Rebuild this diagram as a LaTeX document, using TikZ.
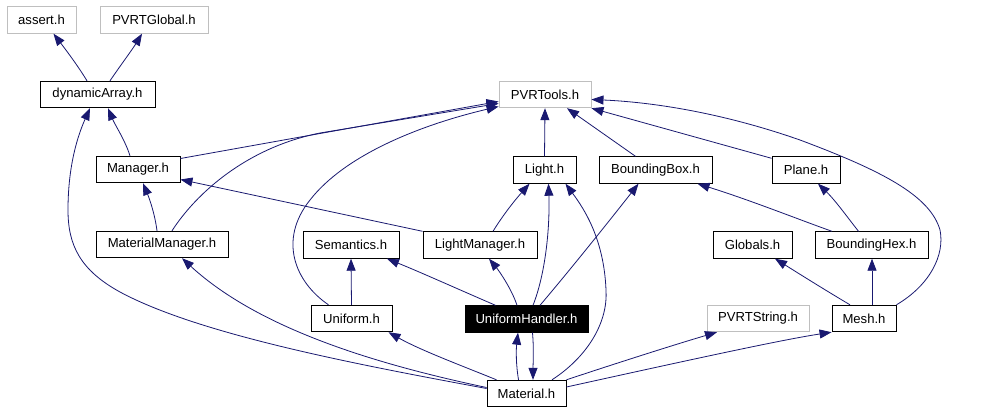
\documentclass[tikz,border=0pt]{standalone}
\usepackage{fontspec}
\setmainfont{Liberation Sans}
\usetikzlibrary{arrows.meta}
\definecolor{edgeblue}{RGB}{25,25,112}
\definecolor{grayborder}{RGB}{191,191,191}
\begin{document}
\begin{tikzpicture}[x=1pt,y=-1pt,
  box/.style={draw=black,line width=0.9pt,rectangle,inner sep=0pt,minimum height=26.5pt,font=\fontsize{13.1}{14}\selectfont,text=black},
  graybox/.style={box,draw=grayborder},
  focusbox/.style={box,fill=black,text=white},
  edge/.style={draw=edgeblue,line width=0.8pt,-{Triangle[length=12pt,width=9pt]}}]
\fill[white] (0,0) rectangle (984,413);
\useasboundingbox (0,0) rectangle (984,413);
\node[graybox,minimum width=69pt] (assert) at (41.5,20) {assert.h};
\node[graybox,minimum width=108pt] (pvrtglobal) at (154,20) {PVRTGlobal.h};
\node[box,minimum width=115pt] (dynarr) at (97.5,94.5) {dynamicArray.h};
\node[graybox,minimum width=92pt] (pvrtools) at (545,94.5) {PVRTools.h};
\node[box,minimum width=84pt] (manager) at (138,169.5) {Manager.h};
\node[box,minimum width=63pt] (light) at (544.5,170) {Light.h};
\node[box,minimum width=113pt] (bbox) at (655.5,170) {BoundingBox.h};
\node[box,minimum width=68pt] (plane) at (806,170) {Plane.h};
\node[box,minimum width=132pt] (matman) at (162,244.5) {MaterialManager.h};
\node[box,minimum width=96pt] (semantics) at (351,245) {Semantics.h};
\node[box,minimum width=114pt] (lightman) at (480,245) {LightManager.h};
\node[box,minimum width=79pt] (globals) at (752.5,245) {Globals.h};
\node[box,minimum width=113pt] (bhex) at (871.5,245) {BoundingHex.h};
\node[box,minimum width=81pt] (uniform) at (351.5,318.5) {Uniform.h};
\node[focusbox,minimum width=123pt] (uhandler) at (526.5,319) {UniformHandler.h};
\node[graybox,minimum width=102pt] (pvrtstring) at (758,318.5) {PVRTString.h};
\node[box,minimum width=64pt] (mesh) at (864,318.5) {Mesh.h};
\node[box,minimum width=79pt] (material) at (526.5,393.5) {Material.h};
% edges
\draw[edge] ([xshift=-10.5pt]dynarr.north) .. controls (78,66) and (66,50) .. ([xshift=12pt]assert.south);
\draw[edge] ([xshift=12.5pt]dynarr.north) .. controls (120,66) and (132,50) .. ([xshift=-12pt]pvrtglobal.south);
\draw[edge] ([xshift=-8pt]manager.north) .. controls (125,140) and (115,125) .. ([xshift=10.5pt]dynarr.south);
\draw[edge] ([yshift=5pt]material.west) .. controls (360,365) and (200,335) .. (120,292) .. controls (80,270) and (68,245) .. (68,210) .. controls (68,165) and (78,135) .. ([xshift=-7.5pt]dynarr.south);
\draw[edge] ([yshift=11pt]manager.east) -- ([yshift=-7pt]pvrtools.west);
\draw[edge] ([xshift=10pt]matman.north) .. controls (195,195) and (245,148) .. (320,133) -- ([yshift=-9pt]pvrtools.west);
\draw[edge] ([xshift=-23pt]uniform.north) .. controls (295,282) and (278,240) .. (310,200) .. controls (345,155) and (420,125) .. ([yshift=-12pt]pvrtools.west);
\draw[edge] (light.north) -- (pvrtools.south);
\draw[edge] ([xshift=-20pt]bbox.north) -- ([xshift=22pt]pvrtools.south);
\draw[edge] ([yshift=-2pt]plane.north west) -- (pvrtools.south east);
\draw[edge] (mesh.north east) .. controls (930,285) and (945,255) .. (940,230) .. controls (930,195) and (880,170) .. (800,140) .. controls (720,112) and (650,102) .. ([yshift=-5pt]pvrtools.east);
\draw[edge] (lightman.north west) -- ([yshift=-10pt]manager.east);
\draw[edge] ([xshift=13pt]lightman.north) .. controls (503,215) and (515,200) .. ([xshift=-15pt]light.south);
\draw[edge] ([xshift=-31pt]uhandler.north) .. controls (460,290) and (420,272) .. ([xshift=36pt]semantics.south);
\draw[edge] ([xshift=-9.5pt]uhandler.north) .. controls (512,290) and (500,272) .. ([xshift=9pt]lightman.south);
\draw[edge] ([xshift=6.5pt]uhandler.north) .. controls (545,275) and (550,230) .. ([xshift=4pt]light.south);
\draw[edge] ([xshift=13.5pt]uhandler.north) .. controls (570,270) and (610,220) .. ([xshift=-17pt]bbox.south);
\draw[edge] (uniform.north) -- (semantics.south);
\draw[edge] ([xshift=-30pt]material.north) .. controls (460,365) and (420,350) .. ([xshift=37pt]uniform.south);
\draw[edge] ([xshift=-8pt]material.north) .. controls (516,365) and (516,350) .. ([xshift=-8.5pt]uhandler.south);
\draw[edge] ([xshift=6pt]uhandler.south) .. controls (534,350) and (533,365) .. ([xshift=6.5pt]material.north);
\draw[edge] ([xshift=25.5pt]material.north) .. controls (590,355) and (608,320) .. (606,290) .. controls (604,240) and (585,210) .. ([xshift=21pt]light.south);
\draw[edge] (material.north east) .. controls (620,362) and (680,343) .. ([xshift=-41pt]pvrtstring.south);
\draw[edge] ([yshift=6.5pt]material.east) .. controls (680,362) and (780,340) .. (mesh.south west);
\draw[edge] ([xshift=-5pt]matman.north) .. controls (155,215) and (150,200) .. ([xshift=5pt]manager.south);
\draw[edge] ([yshift=6pt]material.west) .. controls (380,365) and (260,330) .. ([xshift=20pt]matman.south);
\draw[edge] ([xshift=-39.5pt]bhex.north) .. controls (800,220) and (750,200) .. ([xshift=42pt]bbox.south);
\draw[edge] ([xshift=-13pt]bhex.north) .. controls (848,218) and (835,200) .. ([xshift=12pt]plane.south);
\draw[edge] ([xshift=-14pt]mesh.north) .. controls (820,287) and (790,268) .. ([xshift=22.5pt]globals.south);
\draw[edge] ([xshift=8pt]mesh.north) -- ([xshift=0.5pt]bhex.south);
\end{tikzpicture}
\end{document}
